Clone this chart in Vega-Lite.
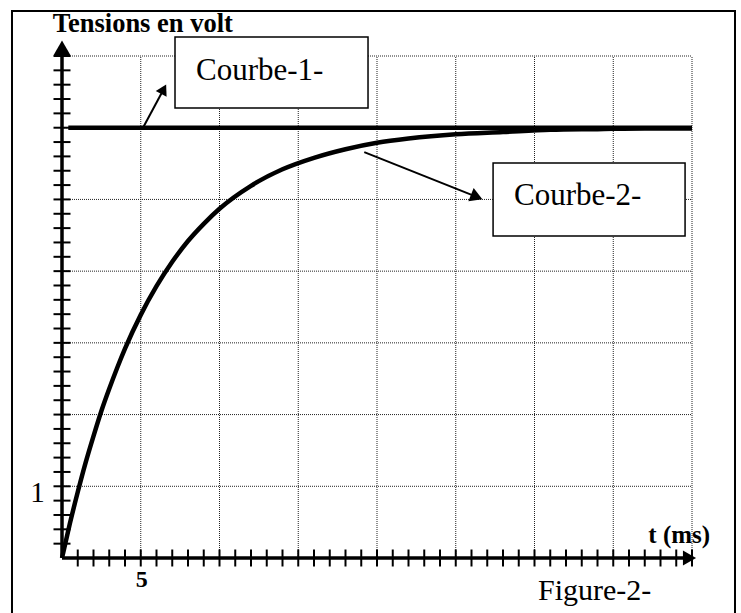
{
  "$schema": "https://vega.github.io/schema/vega-lite/v6.json",
  "width": 630,
  "height": 502,
  "autosize": {"type": "none"},
  "padding": {"left": 62, "top": 56, "right": 49, "bottom": 55},
  "background": "white",
  "config": {"view": {"stroke": null}, "font": "Liberation Serif"},
  "datasets": {
    "curves": [
      {"courbe": "1", "t": 0.4, "u": 6},
      {"courbe": "1", "t": 40, "u": 6},
      {"courbe": "2", "t": 0, "u": 0},
      {"courbe": "2", "t": 0.5, "u": 0.48},
      {"courbe": "2", "t": 1, "u": 0.92},
      {"courbe": "2", "t": 1.5, "u": 1.33},
      {"courbe": "2", "t": 2, "u": 1.70},
      {"courbe": "2", "t": 2.5, "u": 2.05},
      {"courbe": "2", "t": 3, "u": 2.36},
      {"courbe": "2", "t": 3.5, "u": 2.65},
      {"courbe": "2", "t": 4, "u": 2.92},
      {"courbe": "2", "t": 5, "u": 3.39},
      {"courbe": "2", "t": 6, "u": 3.79},
      {"courbe": "2", "t": 7, "u": 4.13},
      {"courbe": "2", "t": 8, "u": 4.42},
      {"courbe": "2", "t": 9, "u": 4.66},
      {"courbe": "2", "t": 10, "u": 4.87},
      {"courbe": "2", "t": 12, "u": 5.19},
      {"courbe": "2", "t": 14, "u": 5.42},
      {"courbe": "2", "t": 16, "u": 5.58},
      {"courbe": "2", "t": 18, "u": 5.70},
      {"courbe": "2", "t": 20, "u": 5.79},
      {"courbe": "2", "t": 22, "u": 5.85},
      {"courbe": "2", "t": 25, "u": 5.91},
      {"courbe": "2", "t": 28, "u": 5.94},
      {"courbe": "2", "t": 31, "u": 5.97},
      {"courbe": "2", "t": 34, "u": 5.98},
      {"courbe": "2", "t": 37, "u": 5.99},
      {"courbe": "2", "t": 40, "u": 5.99}
    ],
    "xgrid": [{"t": 0}, {"t": 5}, {"t": 10}, {"t": 15}, {"t": 20}, {"t": 25}, {"t": 30}, {"t": 35}, {"t": 40}],
    "ygrid": [{"v": 1}, {"v": 2}, {"v": 3}, {"v": 4}, {"v": 5}, {"v": 6}, {"v": 7}],
    "xticks": [
      {"t": 1}, {"t": 2}, {"t": 3}, {"t": 4}, {"t": 5}, {"t": 6}, {"t": 7}, {"t": 8}, {"t": 9}, {"t": 10},
      {"t": 11}, {"t": 12}, {"t": 13}, {"t": 14}, {"t": 15}, {"t": 16}, {"t": 17}, {"t": 18}, {"t": 19}, {"t": 20},
      {"t": 21}, {"t": 22}, {"t": 23}, {"t": 24}, {"t": 25}, {"t": 26}, {"t": 27}, {"t": 28}, {"t": 29}, {"t": 30},
      {"t": 31}, {"t": 32}, {"t": 33}, {"t": 34}, {"t": 35}, {"t": 36}, {"t": 37}, {"t": 38}, {"t": 39}, {"t": 40}
    ],
    "yticks": [
      {"v": 0.2}, {"v": 0.4}, {"v": 0.6}, {"v": 0.8}, {"v": 1.0},
      {"v": 1.2}, {"v": 1.4}, {"v": 1.6}, {"v": 1.8}, {"v": 2.0},
      {"v": 2.2}, {"v": 2.4}, {"v": 2.6}, {"v": 2.8}, {"v": 3.0},
      {"v": 3.2}, {"v": 3.4}, {"v": 3.6}, {"v": 3.8}, {"v": 4.0},
      {"v": 4.2}, {"v": 4.4}, {"v": 4.6}, {"v": 4.8}, {"v": 5.0},
      {"v": 5.2}, {"v": 5.4}, {"v": 5.6}, {"v": 5.8}, {"v": 6.0},
      {"v": 6.2}, {"v": 6.4}, {"v": 6.6}, {"v": 6.8}, {"v": 7.0}
    ]
  },
  "layer": [
    {
      "data": {"values": [{"name": "cadre"}]},
      "mark": {"type": "rect", "fill": "white", "stroke": "black", "strokeWidth": 2},
      "encoding": {
        "x": {"datum": -3.175, "type": "quantitative", "scale": {"domain": [0, 40], "nice": false, "zero": false}, "axis": null},
        "x2": {"datum": 42.73},
        "y": {"datum": 7.628, "type": "quantitative", "scale": {"domain": [0, 7], "nice": false, "zero": false}, "axis": null},
        "y2": {"datum": -0.95}
      }
    },
    {
      "data": {"name": "xgrid"},
      "mark": {"type": "rule", "color": "#222", "strokeWidth": 1, "strokeDash": [1, 1]},
      "encoding": {
        "x": {"field": "t", "type": "quantitative", "axis": null},
        "y": {"datum": 0, "type": "quantitative", "axis": null},
        "y2": {"datum": 7}
      }
    },
    {
      "data": {"name": "ygrid"},
      "mark": {"type": "rule", "color": "#222", "strokeWidth": 1, "strokeDash": [1, 1]},
      "encoding": {
        "y": {"field": "v", "type": "quantitative", "axis": null},
        "x": {"datum": 0, "type": "quantitative", "axis": null},
        "x2": {"datum": 40}
      }
    },
    {
      "data": {"name": "xticks"},
      "mark": {"type": "tick", "orient": "vertical", "size": 17, "thickness": 2, "color": "black", "opacity": 1},
      "encoding": {
        "x": {"field": "t", "type": "quantitative", "axis": null},
        "y": {"datum": 0, "type": "quantitative", "axis": null}
      }
    },
    {
      "data": {"name": "yticks"},
      "mark": {"type": "tick", "orient": "horizontal", "size": 17, "thickness": 2, "color": "black", "opacity": 1},
      "encoding": {
        "y": {"field": "v", "type": "quantitative", "axis": null},
        "x": {"datum": 0, "type": "quantitative", "axis": null}
      }
    },
    {
      "data": {"values": [{"axe": "t"}]},
      "mark": {"type": "rule", "color": "black", "strokeWidth": 3.5},
      "encoding": {
        "x": {"datum": 0, "type": "quantitative", "axis": null},
        "x2": {"datum": 39.84},
        "y": {"datum": 0, "type": "quantitative", "axis": null}
      }
    },
    {
      "data": {"values": [{"axe": "u"}]},
      "mark": {"type": "rule", "color": "black", "strokeWidth": 3.5},
      "encoding": {
        "x": {"datum": 0, "type": "quantitative", "axis": null},
        "y": {"datum": 0, "type": "quantitative", "axis": null},
        "y2": {"datum": 7.114}
      }
    },
    {
      "data": {"values": [{"axe": "t"}]},
      "mark": {"type": "point", "shape": "triangle-right", "size": 230, "filled": true, "color": "black", "opacity": 1, "strokeWidth": 0},
      "encoding": {
        "x": {"datum": 39.84, "type": "quantitative", "axis": null},
        "y": {"datum": 0, "type": "quantitative", "axis": null}
      }
    },
    {
      "data": {"values": [{"axe": "u"}]},
      "mark": {"type": "point", "shape": "triangle-up", "size": 289, "filled": true, "color": "black", "opacity": 1, "strokeWidth": 0},
      "encoding": {
        "x": {"datum": 0, "type": "quantitative", "axis": null},
        "y": {"datum": 7.114, "type": "quantitative", "axis": null}
      }
    },
    {
      "data": {"name": "curves"},
      "mark": {"type": "line", "color": "black", "strokeWidth": 4.5, "interpolate": "monotone"},
      "encoding": {
        "x": {"field": "t", "type": "quantitative", "axis": null},
        "y": {"field": "u", "type": "quantitative", "axis": null},
        "detail": {"field": "courbe"}
      }
    },
    {
      "data": {"values": [{"fleche": "1"}]},
      "mark": {"type": "rule", "color": "black", "strokeWidth": 2},
      "encoding": {
        "x": {"datum": 5.143, "type": "quantitative", "axis": null},
        "x2": {"datum": 6.455},
        "y": {"datum": 6.0, "type": "quantitative", "axis": null},
        "y2": {"datum": 6.537}
      }
    },
    {
      "data": {"values": [{"fleche": "1"}]},
      "mark": {"type": "point", "shape": "triangle-up", "size": 150, "angle": 28, "filled": true, "color": "black", "opacity": 1, "strokeWidth": 0},
      "encoding": {
        "x": {"datum": 6.455, "type": "quantitative", "axis": null},
        "y": {"datum": 6.537, "type": "quantitative", "axis": null}
      }
    },
    {
      "data": {"values": [{"fleche": "2"}]},
      "mark": {"type": "rule", "color": "black", "strokeWidth": 2},
      "encoding": {
        "x": {"datum": 19.19, "type": "quantitative", "axis": null},
        "x2": {"datum": 26.33},
        "y": {"datum": 5.66, "type": "quantitative", "axis": null},
        "y2": {"datum": 5.035}
      }
    },
    {
      "data": {"values": [{"fleche": "2"}]},
      "mark": {"type": "point", "shape": "triangle-up", "size": 200, "angle": 112, "filled": true, "color": "black", "opacity": 1, "strokeWidth": 0},
      "encoding": {
        "x": {"datum": 26.33, "type": "quantitative", "axis": null},
        "y": {"datum": 5.035, "type": "quantitative", "axis": null}
      }
    },
    {
      "data": {"values": [{"boite": "1"}]},
      "mark": {"type": "rect", "fill": "white", "stroke": "black", "strokeWidth": 1.5},
      "encoding": {
        "x": {"datum": 7.175, "type": "quantitative", "axis": null},
        "x2": {"datum": 19.43},
        "y": {"datum": 7.265, "type": "quantitative", "axis": null},
        "y2": {"datum": 6.275}
      }
    },
    {
      "data": {"values": [{"boite": "2"}]},
      "mark": {"type": "rect", "fill": "white", "stroke": "black", "strokeWidth": 1.5},
      "encoding": {
        "x": {"datum": 27.37, "type": "quantitative", "axis": null},
        "x2": {"datum": 39.56},
        "y": {"datum": 5.508, "type": "quantitative", "axis": null},
        "y2": {"datum": 4.49}
      }
    },
    {
      "data": {"values": [{"label": "Courbe-1-"}]},
      "mark": {"type": "text", "font": "Liberation Serif", "fontSize": 31, "align": "left", "baseline": "alphabetic", "color": "black"},
      "encoding": {
        "x": {"datum": 8.508, "type": "quantitative", "axis": null},
        "y": {"datum": 6.665, "type": "quantitative", "axis": null},
        "text": {"field": "label"}
      }
    },
    {
      "data": {"values": [{"label": "Courbe-2-"}]},
      "mark": {"type": "text", "font": "Liberation Serif", "fontSize": 31, "align": "left", "baseline": "alphabetic", "color": "black"},
      "encoding": {
        "x": {"datum": 28.7, "type": "quantitative", "axis": null},
        "y": {"datum": 4.922, "type": "quantitative", "axis": null},
        "text": {"field": "label"}
      }
    },
    {
      "data": {"values": [{"label": "Tensions en volt"}]},
      "mark": {"type": "text", "font": "Liberation Serif", "fontSize": 26.5, "fontWeight": "bold", "align": "left", "baseline": "alphabetic", "color": "black"},
      "encoding": {
        "x": {"datum": -0.59, "type": "quantitative", "axis": null},
        "y": {"datum": 7.339, "type": "quantitative", "axis": null},
        "text": {"field": "label"}
      }
    },
    {
      "data": {"values": [{"label": "t (ms)"}]},
      "mark": {"type": "text", "font": "Liberation Serif", "fontSize": 25, "fontWeight": "bold", "align": "left", "baseline": "alphabetic", "color": "black"},
      "encoding": {
        "x": {"datum": 37.23, "type": "quantitative", "axis": null},
        "y": {"datum": 0.205, "type": "quantitative", "axis": null},
        "text": {"field": "label"}
      }
    },
    {
      "data": {"values": [{"label": "1"}]},
      "mark": {"type": "text", "font": "Liberation Serif", "fontSize": 29, "align": "right", "baseline": "alphabetic", "color": "black"},
      "encoding": {
        "x": {"datum": -1.1, "type": "quantitative", "axis": null},
        "y": {"datum": 0.786, "type": "quantitative", "axis": null},
        "text": {"field": "label"}
      }
    },
    {
      "data": {"values": [{"label": "5"}]},
      "mark": {"type": "text", "font": "Liberation Serif", "fontSize": 24, "fontWeight": "bold", "align": "center", "baseline": "alphabetic", "color": "black"},
      "encoding": {
        "x": {"datum": 5.06, "type": "quantitative", "axis": null},
        "y": {"datum": -0.404, "type": "quantitative", "axis": null},
        "text": {"field": "label"}
      }
    },
    {
      "data": {"values": [{"label": "Figure-2-"}]},
      "mark": {"type": "text", "font": "Liberation Serif", "fontSize": 30, "align": "left", "baseline": "alphabetic", "color": "black"},
      "encoding": {
        "x": {"datum": 30.22, "type": "quantitative", "axis": null},
        "y": {"datum": -0.579, "type": "quantitative", "axis": null},
        "text": {"field": "label"}
      }
    }
  ]
}
